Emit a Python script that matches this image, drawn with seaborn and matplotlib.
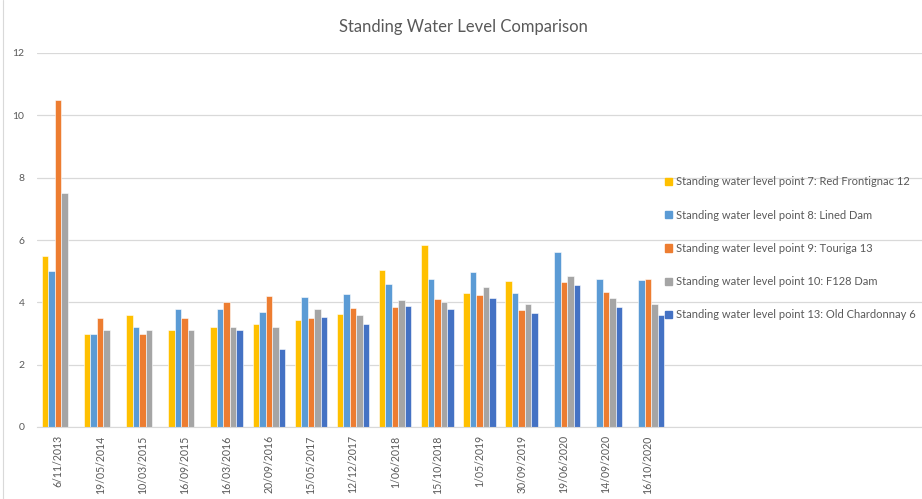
import pandas as pd
import numpy as np
import matplotlib
matplotlib.use("Agg")
import matplotlib.pyplot as plt
import seaborn as sns
from matplotlib.lines import Line2D

dates = ["6/11/2013", "19/05/2014", "10/03/2015", "16/09/2015", "16/03/2016",
         "20/09/2016", "15/05/2017", "12/12/2017", "1/06/2018", "15/10/2018",
         "1/05/2019", "30/09/2019", "19/06/2020", "14/09/2020", "16/10/2020"]

nan = np.nan
p7 = [5.5, 3.0, 3.6, 3.1, 3.2, 3.3, 3.42, 3.62, 5.04, 5.84, 4.29, 4.69, nan, nan, nan]
p8 = [5.0, 3.0, 3.2, 3.8, 3.8, 3.7, 4.17, 4.28, 4.60, 4.75, 4.98, 4.31, 5.60, 4.76, 4.71]
p9 = [10.5, 3.5, 3.0, 3.5, 4.0, 4.2, 3.5, 3.81, 3.84, 4.12, 4.25, 3.74, 4.66, 4.32, 4.76]
p10 = [7.5, 3.1, 3.1, 3.1, 3.2, 3.2, 3.79, 3.59, 4.07, 4.01, 4.49, 3.94, 4.85, 4.14, 3.94]
p13 = [nan, nan, nan, nan, 3.1, 2.5, 3.52, 3.30, 3.88, 3.79, 4.14, 3.65, 4.56, 3.85, 3.59]

series = ["Standing water level point 7: Red Frontignac 12",
          "Standing water level point 8: Lined Dam",
          "Standing water level point 9: Touriga 13",
          "Standing water level point 10: F128 Dam",
          "Standing water level point 13: Old Chardonnay 6"]
colors = ["#FFC000", "#5B9BD5", "#ED7D31", "#A5A5A5", "#4472C4"]

rows = []
for name, vals in zip(series, [p7, p8, p9, p10, p13]):
    for d, v in zip(dates, vals):
        rows.append({"Date": d, "Series": name, "Level": v})
df = pd.DataFrame(rows)

sns.set_style("white")
plt.rcParams["font.family"] = ["Lato", "DejaVu Sans"]
txt = "#595959"

fig = plt.figure(figsize=(9.22, 4.99), dpi=100)
ax = fig.add_axes([37/922, 72/499, 885/922, 374/499])

sns.barplot(data=df, x="Date", y="Level", hue="Series", order=dates,
            hue_order=series, palette=colors, saturation=1, width=0.77, ax=ax,
            edgecolor="white", linewidth=0.4, legend=False)

ax.set_xlim(-0.5, 20.4)
ax.set_ylim(0, 12)
ax.set_yticks(range(0, 13, 2))
ax.yaxis.grid(True, color="#D9D9D9", linewidth=0.9)
ax.set_axisbelow(True)
for s in ["top", "right", "left"]:
    ax.spines[s].set_visible(False)
ax.spines["bottom"].set_color("#D9D9D9")
ax.set_xlabel("")
ax.set_ylabel("")

ax.set_xticks(range(len(dates)))
ax.set_xticklabels(dates, rotation=90)
ax.set_xticks(np.arange(-0.5, 21, 1), minor=True)
ax.tick_params(axis="x", which="major", length=0, pad=6, labelsize=7.6, labelcolor=txt)
ax.tick_params(axis="x", which="minor", length=5, color="#D9D9D9", width=0.8)
ax.tick_params(axis="y", length=0, pad=9, labelsize=7.5, labelcolor=txt)

fig.suptitle("Standing Water Level Comparison", x=0.503, y=0.962, fontsize=12, color=txt)

handles = [plt.Rectangle((0, 0), 1, 1, color=c) for c in colors]
fig.legend(handles, series, loc="upper left", bbox_to_anchor=(661/922, 1 - 172/499),
           frameon=False, fontsize=8.0, labelcolor=txt, handlelength=0.6,
           handleheight=0.6, handletextpad=0.35, labelspacing=2.0, borderaxespad=0)

fig.add_artist(Line2D([3/922, 3/922], [0, 1], color="#D9D9D9", linewidth=0.8))

fig.savefig("out.png", dpi=100)
